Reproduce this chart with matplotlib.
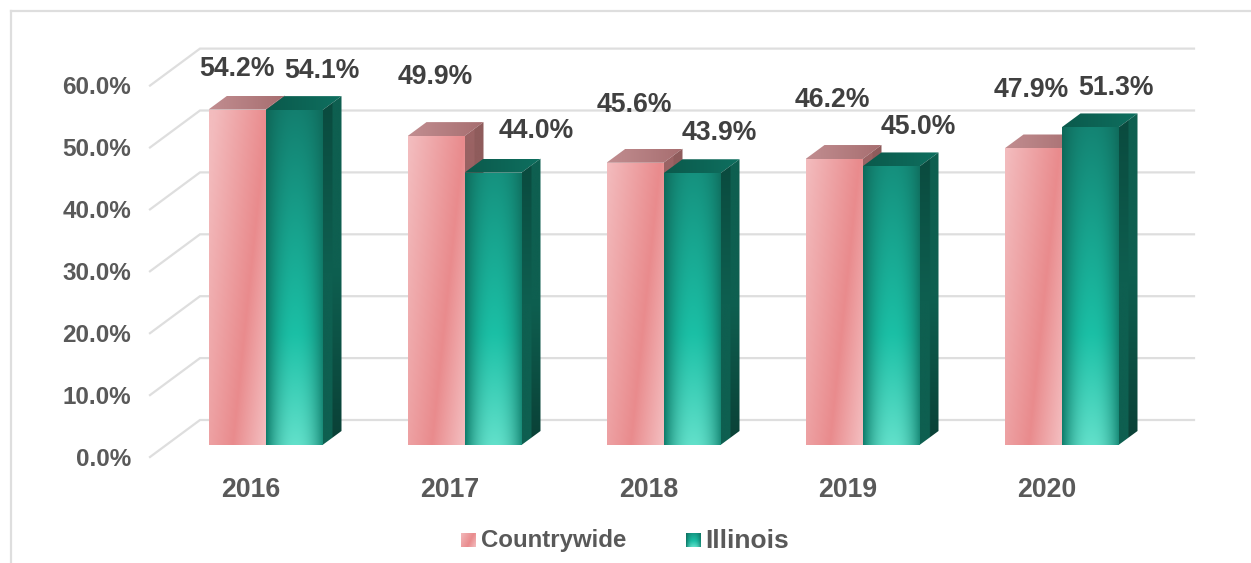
#!/usr/bin/env python3
import numpy as np
import matplotlib
matplotlib.use("Agg")
import matplotlib.pyplot as plt
from matplotlib.patches import Polygon

years = ["2016", "2017", "2018", "2019", "2020"]
countrywide = [54.2, 49.9, 45.6, 46.2, 47.9]
illinois = [54.1, 44.0, 43.9, 45.0, 51.3]
y_ticks = [0, 10, 20, 30, 40, 50, 60]

# pixel layout of the picture
W, H = 1251, 563
X0, STEP = 265.5, 199.0   # centre of first group, distance between groups
Y0, PER = 445.0, 6.19     # pixel row of value 0, pixels per percent
BAR_W = 57 / STEP
DEPTH_X = 19 / STEP
DEPTH_Y = 14 / PER

# label offsets from the bar top, in pixels (picked by hand in the original)
pink_label_dy = [41, 59, 58, 59, 58]
teal_label_dy = [39, 42, 40, 39, 39]
pink_label_dx = [0, -1, -1, -2, -2]
teal_label_dx = [28, 43, 27, 27, 26]

plt.rcParams["font.family"] = ["Liberation Sans", "DejaVu Sans"]
plt.rcParams["font.weight"] = "bold"


def px(x):
    return (x - X0) / STEP


def py(y):
    return (Y0 - y) / PER


def hexrgb(c):
    return np.array(matplotlib.colors.to_rgb(c))


def mix(a, b, t):
    t = np.clip(t, 0, 1)[..., None]
    return a * (1 - t) + b * t


def pink_front(h):
    # light at top left, dark diagonal band, light again at bottom right
    rows = max(int(h * PER), 2)
    u, v = np.meshgrid(np.linspace(0, 1, 57), np.linspace(1, 0, rows))
    height = v * h * PER / 335
    band = 0.42 + 0.62 * height
    d = u - band
    t = np.where(d < 0, -d / 0.95, d / 0.55)
    return mix(hexrgb("#e98b8d"), hexrgb("#f3bcbe"), t)


def teal_front(h):
    rows = max(int(h * PER), 2)
    u, v = np.meshgrid(np.linspace(0, 1, 57), np.linspace(1, 0, rows))
    height = v * h * PER
    centre = np.interp(height, [0, 110, 200, 335], [0, 0.38, 0.62, 1])
    low = mix(hexrgb("#62e0ca"), hexrgb("#1bc0a6"), centre / 0.38)
    high = mix(hexrgb("#1bc0a6"), hexrgb("#137f6f"), (centre - 0.38) / 0.62)
    col = np.where((centre < 0.38)[..., None], low, high)
    edge = np.abs(u - 0.52) / 0.52
    dark = mix(hexrgb("#0f7f6d"), hexrgb("#0f6657"), centre)
    return mix(col, dark, edge ** 2.2)


def face(ax, corners, img, z):
    # gradient image clipped to a polygon in data coordinates
    xs = [p[0] for p in corners]
    ys = [p[1] for p in corners]
    im = ax.imshow(img, extent=[min(xs), max(xs), min(ys), max(ys)], aspect="auto",
                   interpolation="bilinear", zorder=z)
    clip = Polygon(corners, closed=True, transform=ax.transData)
    im.set_clip_path(clip)


def ramp_x(c1, c2):
    return mix(hexrgb(c1), hexrgb(c2), np.linspace(0, 1, 32)[None, :])


def ramp_y(c1, c2, c3):
    t = np.linspace(0, 1, 64)[:, None]
    return np.where(t < 0.5, mix(hexrgb(c1), hexrgb(c2), t * 2), mix(hexrgb(c2), hexrgb(c3), t * 2 - 1))


def draw_bar(ax, left, value, front, top_a, top_b, side_cols, z):
    right = left + BAR_W
    face(ax, [(left, 0), (right, 0), (right, value), (left, value)], front(value), z)
    face(ax, [(left, value), (right, value), (right + DEPTH_X, value + DEPTH_Y), (left + DEPTH_X, value + DEPTH_Y)],
         ramp_x(top_a, top_b), z)
    face(ax, [(right, 0), (right + DEPTH_X, DEPTH_Y), (right + DEPTH_X, value + DEPTH_Y), (right, value)],
         ramp_y(*side_cols), z)


fig = plt.figure(figsize=(W / 100, H / 100), dpi=100)
ax = fig.add_axes([0, 0, 1, 1])
ax.axis("off")

# outer frame
ax.plot([px(11), px(11)], [py(H), py(11)], color="#dedede", lw=1.6, zorder=1)
ax.plot([px(11), px(W)], [py(11), py(11)], color="#dedede", lw=1.6, zorder=1)

# back wall and floor grid
for t in y_ticks:
    ax.plot([px(150), px(200), px(1194)],
            [t + py(457), t + py(420), t + py(420)],
            color="#dedede", lw=1.6, zorder=2, solid_joinstyle="miter")
    ax.text(px(131), t + py(459), f"{t:.1f}%", ha="right", va="center",
            fontsize=17.5, color="#595959", zorder=6)

for i, year in enumerate(years):
    pink_left = i - BAR_W
    z = 3 + i * 0.01
    draw_bar(ax, pink_left, countrywide[i], pink_front, "#c18d90", "#a76e70",
             ("#9c6465", "#8f5c5c", "#7a4c4c"), z)
    draw_bar(ax, i, illinois[i], teal_front, "#0b5a4c", "#0e6f5f",
             ("#0a4a3e", "#0e5f50", "#0a4036"), z + 0.001)

    ax.text(px(221 + STEP * i + 29.5), py(490), year, ha="center", va="center",
            fontsize=19.2, color="#595959", zorder=6)
    ax.text(i - BAR_W / 2 + pink_label_dx[i] / STEP, countrywide[i] + pink_label_dy[i] / PER,
            f"{countrywide[i]:.1f}%", ha="center", va="center", fontsize=19.2, color="#404040", zorder=6)
    ax.text(i + BAR_W / 2 + teal_label_dx[i] / STEP, illinois[i] + teal_label_dy[i] / PER,
            f"{illinois[i]:.1f}%", ha="center", va="center", fontsize=19.2, color="#404040", zorder=6)

# legend
for sx, label, tx, size, img in [
    (461, "Countrywide", 481, 17.3, pink_front(40)),
    (686, "Illinois", 705, 19, teal_front(40)),
]:
    ax.imshow(img, extent=[px(sx), px(sx + 15), py(547), py(533)], aspect="auto", zorder=5)
    ax.text(px(tx), py(541), label, ha="left", va="center", fontsize=size, color="#595959", zorder=6)

ax.set_xlim(px(0), px(W))
ax.set_ylim(py(H), py(0))

fig.savefig("out.png", dpi=100)
